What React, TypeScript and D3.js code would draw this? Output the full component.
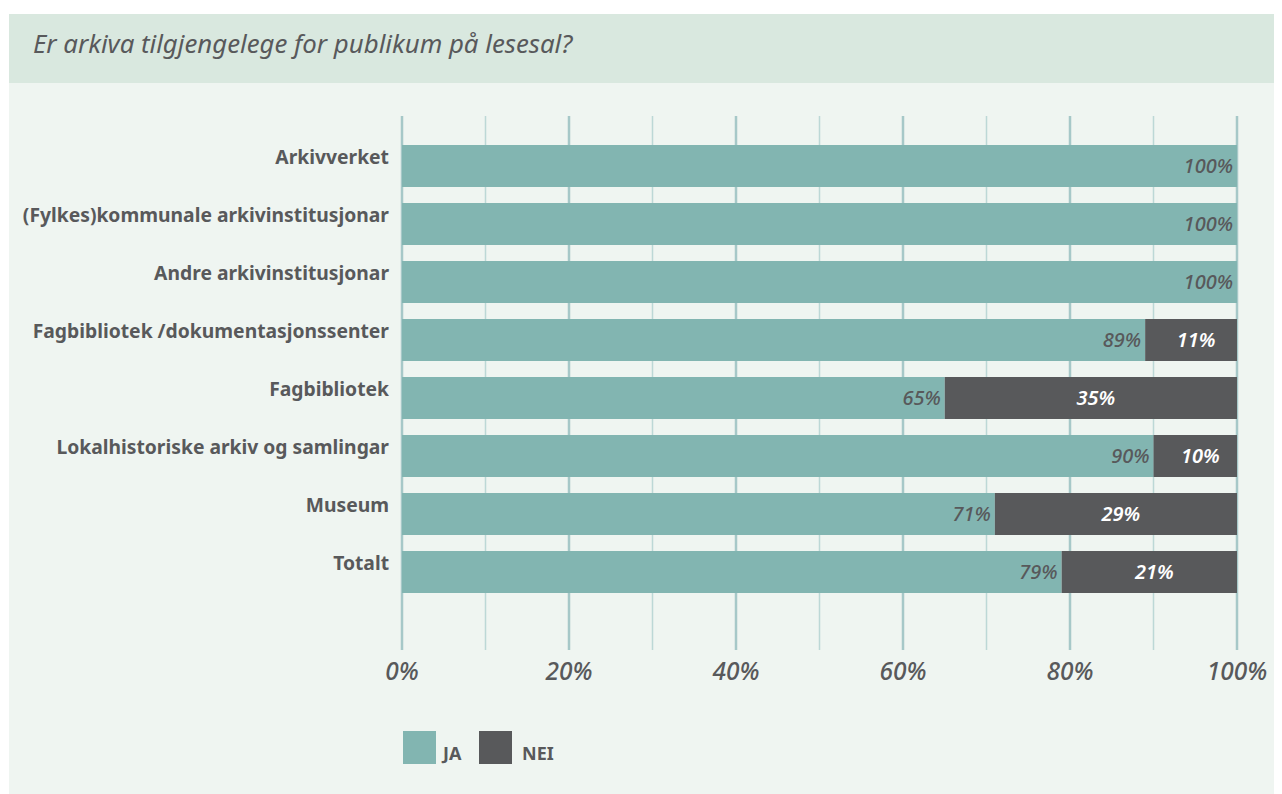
import React from "react";
import * as d3 from "d3";

const categories = [
  "Arkivverket",
  "(Fylkes)kommunale arkivinstitusjonar",
  "Andre arkivinstitusjonar",
  "Fagbibliotek /dokumentasjonssenter",
  "Fagbibliotek",
  "Lokalhistoriske arkiv og samlingar",
  "Museum",
  "Totalt",
];
const jaValues = [100, 100, 100, 89, 65, 90, 71, 79];
const neiValues = [0, 0, 0, 11, 35, 10, 29, 21];
const tickValues = [0, 20, 40, 60, 80, 100];
const gridValues = [0, 10, 20, 30, 40, 50, 60, 70, 80, 90, 100];
const seriesNames = ["JA", "NEI"];
const title = "Er arkiva tilgjengelege for publikum på lesesal?";

const W = 1274;
const H = 786;
const TEAL = "#82b5b1";
const DARK = "#58595b";
const TEXT = "#58595b";
const FONT = "'Noto Sans', 'Open Sans', sans-serif";

export default function App() {
  const x = d3.scaleLinear().domain([0, 100]).range([394, 1229]);
  const y = d3
    .scaleBand<string>()
    .domain(categories)
    .range([129, 593])
    .paddingInner(16 / 58)
    .paddingOuter(8 / 58);
  const bw = y.bandwidth();
  const stack = d3
    .stack<any>()
    .keys(["ja", "nei"])(
    categories.map((c, i) => ({ cat: c, ja: jaValues[i], nei: neiValues[i] }))
  );

  return (
    <svg width={W} height={H} style={{ display: "block" }}>
      <rect x={1} y={6} width={W} height={69} fill="#d9e8df" />
      <rect x={1} y={75} width={W} height={H - 75} fill="#eff5f1" />
      <text
        x={25}
        y={45}
        fontFamily={FONT}
        fontStyle="italic"
        fontSize={25.8}
        fill={TEXT}
      >
        {title}
      </text>
      {gridValues.map((g) => (
        <line
          key={g}
          x1={x(g)}
          x2={x(g)}
          y1={108}
          y2={642}
          stroke={g % 20 === 0 ? "#a6c8c8" : "#bcd8d6"}
          strokeWidth={g % 20 === 0 ? 2.5 : 1.5}
        />
      ))}
      {stack.map((layer, li) =>
        layer.map((d, i) => {
          const w = x(d[1]) - x(d[0]);
          if (w <= 0) return null;
          return (
            <rect
              key={li + "-" + i}
              x={x(d[0])}
              y={y(categories[i])!}
              width={w}
              height={bw}
              fill={li === 0 ? TEAL : DARK}
            />
          );
        })
      )}
      {categories.map((c, i) => {
        const yc = y(c)! + bw / 2;
        return (
          <g key={c}>
            <text
              x={381}
              y={yc - 2}
              textAnchor="end"
              fontFamily={FONT}
              fontWeight="bold"
              fontSize={19.3}
              fill={TEXT}
            >
              {c}
            </text>
            <text
              x={x(jaValues[i]) - 4}
              y={yc + 7}
              textAnchor="end"
              fontFamily={FONT}
              fontStyle="italic"
              fontWeight={500}
              fontSize={20}
              fill={TEXT}
            >
              {jaValues[i] + "%"}
            </text>
            {neiValues[i] > 0 && (
              <text
                x={(x(jaValues[i]) + x(100)) / 2 + 5}
                y={yc + 7}
                textAnchor="middle"
                fontFamily={FONT}
                fontStyle="italic"
                fontWeight={600}
                fontSize={20}
                fill="#ffffff"
              >
                {neiValues[i] + "%"}
              </text>
            )}
          </g>
        );
      })}
      {tickValues.map((t) => (
        <text
          key={t}
          x={x(t)}
          y={672}
          textAnchor="middle"
          fontFamily={FONT}
          fontStyle="italic"
          fontWeight={500}
          fontSize={24.5}
          fill={TEXT}
        >
          {t + "%"}
        </text>
      ))}
      {seriesNames.map((s, i) => {
        const lx = [395, 471][i];
        return (
          <g key={s}>
            <rect x={lx} y={723} width={33} height={33} fill={i === 0 ? TEAL : DARK} />
            <text
              x={lx + 40 + (i === 1 ? 3 : 0)}
              y={752}
              fontFamily={FONT}
              fontWeight="bold"
              fontSize={18}
              fill={TEXT}
            >
              {s}
            </text>
          </g>
        );
      })}
    </svg>
  );
}
